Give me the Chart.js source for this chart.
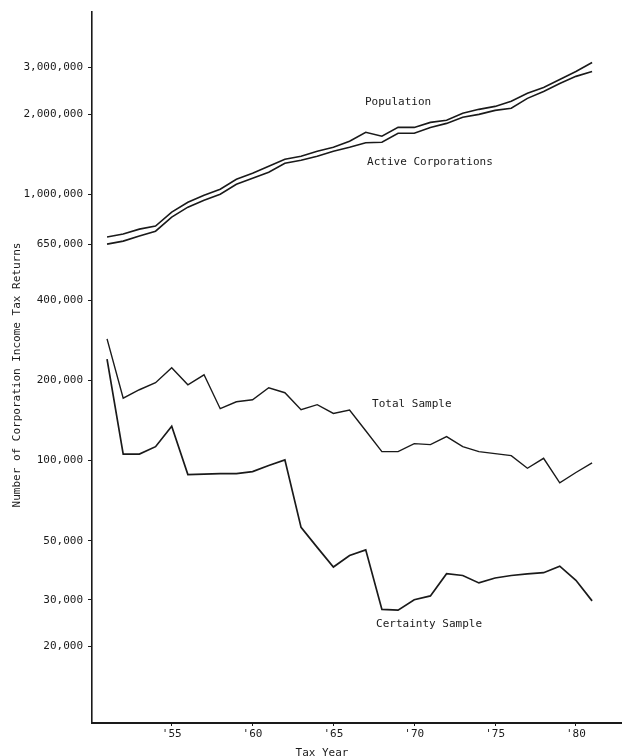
<!DOCTYPE html>
<html>
<head>
<meta charset="utf-8">
<script src="https://cdn.jsdelivr.net/npm/chart.js@4/dist/chart.umd.min.js"></script>
<style>
  html, body { margin: 0; padding: 0; background: #fff; }
  canvas { display: block; }
</style>
</head>
<body>
<canvas id="c" width="622" height="756"></canvas>
<script>
const years = [1951,1952,1953,1954,1955,1956,1957,1958,1959,1960,1961,1962,1963,1964,1965,1966,1967,1968,1969,1970,1971,1972,1973,1974,1975,1976,1977,1978,1979,1980,1981];
const population = [692000,710000,741000,761000,858000,935000,994000,1047000,1141000,1202000,1277000,1356000,1392000,1453000,1504000,1585000,1713000,1655000,1787000,1787000,1866000,1900000,2018000,2089000,2143000,2239000,2399000,2524000,2704000,2898000,3134000];
const activeCorporations = [651000,668000,698000,728000,822000,896000,952000,1002000,1093000,1151000,1213000,1310000,1345000,1392000,1453000,1504000,1564000,1571000,1698000,1698000,1787000,1850000,1950000,2000000,2070000,2108000,2297000,2439000,2614000,2779000,2898000];
const totalSample = [286800,171600,184600,196100,223200,192700,210100,156700,166400,169300,187800,179900,155300,162200,150400,154900,129500,108100,108100,115800,114800,123000,112800,108100,106200,104400,93600,102000,82500,90200,98000];
const certaintySample = [240600,105800,105800,112800,134500,88600,89000,89400,89400,90900,95800,100600,56100,47200,39800,44000,46200,27600,27400,30000,31000,37600,37000,34700,36200,37000,37500,37900,40100,35500,29700];

const yTicks = [20000,30000,50000,100000,200000,400000,650000,1000000,2000000,3000000];
const xTicks = [1955,1960,1965,1970,1975,1980];
const xTickLabels = ["'55","'60","'65","'70","'75","'80"];

const seriesLabels = [
  { text: 'Population', year: 1966.95, value: 2219000 },
  { text: 'Active Corporations', year: 1967.08, value: 1322000 },
  { text: 'Total Sample', year: 1967.39, value: 163600 },
  { text: 'Certainty Sample', year: 1967.64, value: 24300 }
];
const xTitle = 'Tax Year';
const yTitle = 'Number of Corporation Income Tax Returns';

const FONT = '11px "DejaVu Sans Mono", "Liberation Mono", monospace';
const INK = '#1a1a1a';

function pts(vals) { return years.map((yr, i) => ({ x: yr, y: vals[i] })); }
function ds(vals, w) {
  return { data: pts(vals), borderColor: INK, borderWidth: w, pointRadius: 0, tension: 0, fill: false };
}

const textPlugin = {
  id: 'texts',
  afterDraw(chart) {
    const ctx = chart.ctx;
    const xs = chart.scales.x, ys = chart.scales.y;
    ctx.save();
    ctx.font = FONT;
    ctx.fillStyle = INK;
    ctx.textAlign = 'left';
    ctx.textBaseline = 'middle';
    seriesLabels.forEach(l => {
      ctx.fillText(l.text, xs.getPixelForValue(l.year), ys.getPixelForValue(l.value));
    });
    ctx.textAlign = 'center';
    ctx.textBaseline = 'top';
    ctx.fillText(xTitle, 322, 748);
    ctx.translate(17, 375);
    ctx.rotate(-Math.PI / 2);
    ctx.textBaseline = 'middle';
    ctx.fillText(yTitle, 0, 0);
    ctx.restore();
  }
};

new Chart(document.getElementById('c'), {
  type: 'line',
  data: {
    datasets: [
      ds(population, 1.6),
      ds(activeCorporations, 1.6),
      ds(totalSample, 1.4),
      ds(certaintySample, 1.7)
    ]
  },
  options: {
    responsive: false,
    animation: false,
    devicePixelRatio: 1,
    layout: { padding: { top: 10, right: 0, left: 0, bottom: 0 } },
    plugins: { legend: { display: false }, tooltip: { enabled: false } },
    scales: {
      x: {
        type: 'linear',
        min: 1950.07,
        max: 1982.85,
        afterFit: s => { s.height = 33; },
        afterBuildTicks: s => { s.ticks = xTicks.map(v => ({ value: v })); },
        ticks: {
          font: { family: '"DejaVu Sans Mono"', size: 11 },
          color: INK,
          padding: 2,
          maxRotation: 0,
          callback: (v) => xTickLabels[xTicks.indexOf(v)]
        },
        grid: { display: true, drawOnChartArea: false, drawTicks: true, tickLength: 3, color: INK },
        border: { display: true, color: INK, width: 2 }
      },
      y: {
        type: 'logarithmic',
        min: 10325,
        max: 4867000,
        afterFit: s => { s.width = 92; },
        afterBuildTicks: s => { s.ticks = yTicks.map(v => ({ value: v })); },
        ticks: {
          font: { family: '"DejaVu Sans Mono"', size: 11 },
          color: INK,
          padding: 5,
          autoSkip: false,
          callback: (v) => Number(v).toLocaleString('en-US')
        },
        grid: { display: true, drawOnChartArea: false, drawTicks: true, tickLength: 4, color: INK },
        border: { display: true, color: INK, width: 1.6 }
      }
    }
  },
  plugins: [textPlugin]
});
</script>
</body>
</html>
